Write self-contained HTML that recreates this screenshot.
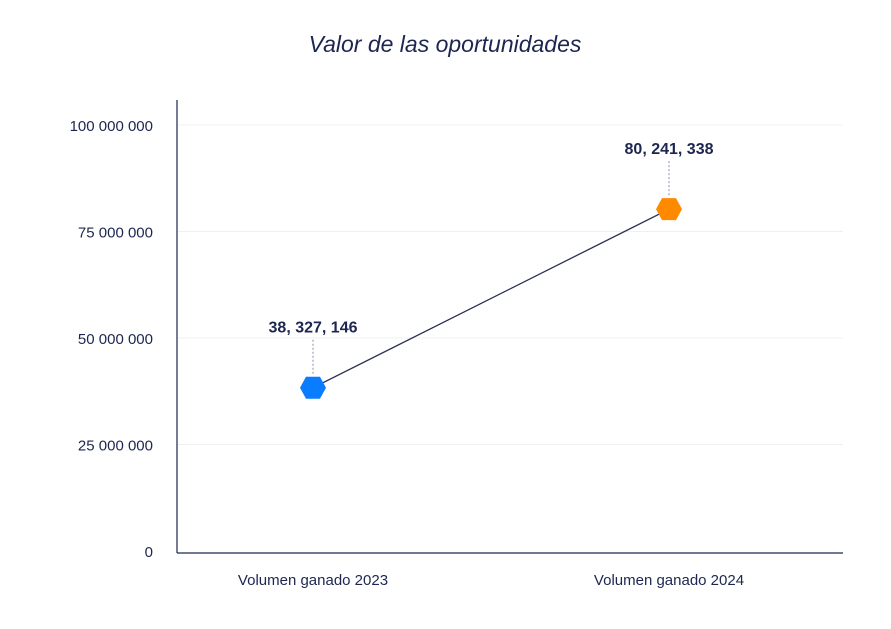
<!DOCTYPE html>
<html><head><meta charset="utf-8"><style>
body{margin:0;background:#fff;width:891px;height:624px;overflow:hidden;font-family:"Liberation Sans",sans-serif}
</style></head><body>
<svg width="891" height="624">
<text x="445" y="52" text-anchor="middle" font-size="23" font-style="italic" fill="#1d2650">Valor de las oportunidades</text>
<g id="grid"></g>
<g id="axes"></g>
<g id="marks"></g>
</svg>
<script>
const categories=["Volumen ganado 2023","Volumen ganado 2024"];
const values=[38327146,80241338];
const valueLabels=["38, 327, 146","80, 241, 338"];
const yTicks=[0,25000000,50000000,75000000,100000000];
const yTickLabels=["0","25 000 000","50 000 000","75 000 000","100 000 000"];
const colors=["#0a7cff","#ff8a00"];
const NS="http://www.w3.org/2000/svg";
const L=177,R=843,T=125,B=551;
const y=v=>B-(v/100000000)*(B-T);
const x=i=>[313,669][i];
function mk(t,a,p){const e=document.createElementNS(NS,t);for(const k in a)e.setAttribute(k,a[k]);p.appendChild(e);return e;}
const grid=document.getElementById('grid'),axes=document.getElementById('axes'),marks=document.getElementById('marks');
yTicks.forEach((v,i)=>{
 if(v>0){const g=mk('line',{x1:L,x2:R,y1:y(v),y2:y(v),stroke:'#f0f0f0'},grid);
 
 }
 const t=mk('text',{x:153,y:y(v)+6,'text-anchor':'end','font-size':'15',fill:'#1d2650'},axes);
 t.textContent=yTickLabels[i];
 
 
});
const ya=mk('line',{x1:L,x2:L,y1:100,y2:553,stroke:'#1d2650','stroke-width':1.2},axes);


const xa=mk('line',{x1:L,x2:R,y1:553,y2:553,stroke:'#1d2650','stroke-width':1.2},axes);


categories.forEach((c,i)=>{
 const t=mk('text',{x:x(i),y:585,'text-anchor':'middle','font-size':'15',fill:'#1d2650'},axes);
 t.textContent=c;
 
 
});
const ln=mk('polyline',{points:values.map((v,i)=>x(i)+','+y(v)).join(' '),fill:'none',stroke:'#2b2f55','stroke-width':1.3},marks);


values.forEach((v,i)=>{
 const cx=x(i),cy=y(v);
 const d=mk('line',{x1:cx,x2:cx,y1:cy-48,y2:cy-12,stroke:'#8a8fa8','stroke-dasharray':'2,2'},marks);
 
 
 const pts=[[-13,0],[-7,-11],[7,-11],[13,0],[7,11],[-7,11]].map(p=>(cx+p[0])+','+(cy+p[1])).join(' ');
 const h=mk('polygon',{points:pts,fill:colors[i]},marks);
 
 
 const t=mk('text',{x:cx,y:cy-55,'text-anchor':'middle','font-size':'16','font-weight':'bold',fill:'#1d2650'},marks);
 t.textContent=valueLabels[i];
 
 
});
</script>
</body></html>
